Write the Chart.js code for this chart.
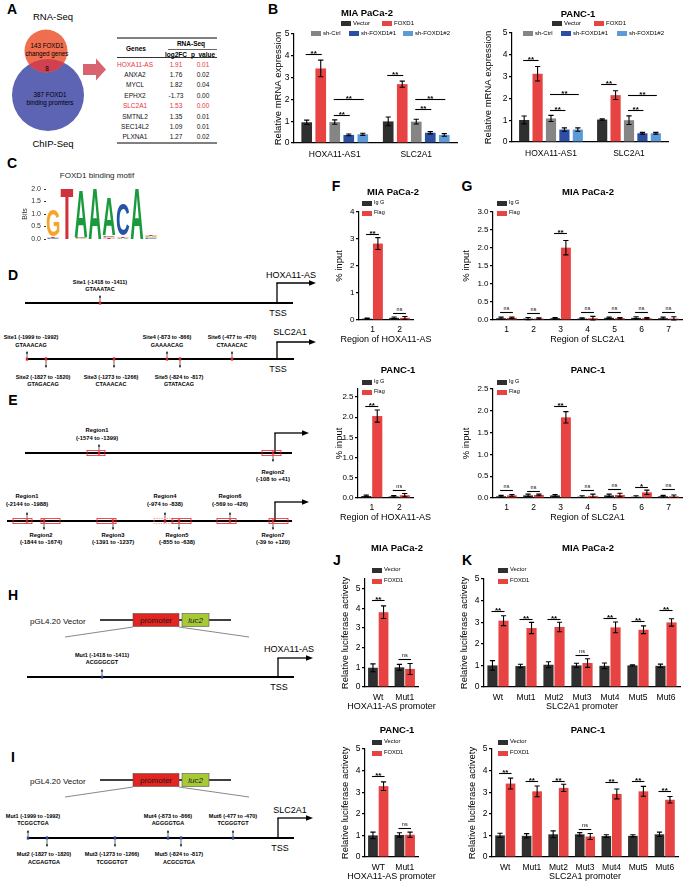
<!DOCTYPE html>
<html>
<head>
<meta charset="utf-8">
<title>FOXD1 targets HOXA11-AS and SLC2A1</title>
<script src="https://cdn.jsdelivr.net/npm/chart.js@4.4.1/dist/chart.umd.min.js"></script>
<style>
  html, body { margin: 0; padding: 0; background: #fff; }
  body { position: relative; width: 685px; height: 882px; overflow: hidden; font-family: 'Liberation Sans', Arial, sans-serif; }
  canvas { position: absolute; }
  .t { position: absolute; white-space: nowrap; line-height: 1; color: #000; }
  svg { position: absolute; left: 0; top: 0; font-family: 'Liberation Sans', Arial, sans-serif; }
</style>
</head>
<body>
<svg id="diag" width="685" height="882"></svg>
<script>
// ---------- data ----------
const tableGenes = ['HOXA11-AS', 'ANXA2', 'MYCL', 'EPHX2', 'SLC2A1', 'SMTNL2', 'SEC14L2', 'PLXNA1'];
const tableLog2FC = ['1.91', '1.76', '1.82', '-1.73', '1.53', '1.35', '1.09', '1.27'];
const tablePval = ['0.01', '0.02', '0.04', '0.00', '0.00', '0.01', '0.01', '0.02'];
const tableHighlight = ['HOXA11-AS', 'SLC2A1'];

// sequence logo (bits per letter per position)
const motifPositions = ['1', '2', '3', '4', '5', '6', '7', '8'];
const motifA = [0, 0, 1.88, 2.0, 1.5, 0.06, 2.0, 0.06];
const motifC = [0.04, 0, 0.04, 0, 0.06, 1.25, 0, 0.04];
const motifG = [1.07, 0, 0.03, 0, 0.05, 0, 0, 0.04];
const motifT = [0.06, 2.0, 0, 0, 0.04, 0.07, 0, 0.06];

// B: qPCR
const qpcrGenes = ['HOXA11-AS1', 'SLC2A1'];
const qpcrGroups = ['Vector', 'FOXD1', 'sh-Ctrl', 'sh-FOXD1#1', 'sh-FOXD1#2'];
const miaQpcr = [[0.95, 0.99], [3.42, 2.70], [0.96, 0.98], [0.37, 0.47], [0.40, 0.37]];
const miaQpcrErr = [[0.10, 0.20], [0.38, 0.14], [0.10, 0.11], [0.04, 0.05], [0.05, 0.06]];
const miaQpcrSig = [[0, 0, 1, 4.1, '**'], [0, 2, 3, 1.3, '**'], [0, 2, 4, 2.02, '**'],
                    [1, 0, 1, 3.11, '**'], [1, 2, 3, 1.58, '**'], [1, 2, 4, 2.0, '**']];
const pancQpcr = [[1.01, 1.03], [3.13, 2.15], [1.08, 1.0], [0.57, 0.40], [0.57, 0.40]];
const pancQpcrErr = [[0.18, 0.03], [0.33, 0.2], [0.14, 0.2], [0.08, 0.04], [0.08, 0.04]];
const pancQpcrSig = [[0, 0, 1, 3.78, '**'], [0, 2, 3, 1.48, '**'], [0, 2, 4, 2.2, '**'],
                     [1, 0, 1, 2.68, '**'], [1, 2, 3, 1.45, '**'], [1, 2, 4, 2.14, '**']];

// F/G: ChIP-qPCR
const chipHoxRegions = ['1', '2'];
const chipSlcRegions = ['1', '2', '3', '4', '5', '6', '7'];
const miaHoxIgg = [0.05, 0.08], miaHoxIggErr = [0.02, 0.03];
const miaHoxFlag = [2.83, 0.08], miaHoxFlagErr = [0.22, 0.05];
const miaHoxSig = [[0, 0, 1, 3.18, '**'], [1, 0, 1, 0.25, 'ns']];
const pancHoxIgg = [0.05, 0.04], pancHoxIggErr = [0.02, 0.02];
const pancHoxFlag = [2.03, 0.07], pancHoxFlagErr = [0.15, 0.04];
const pancHoxSig = [[0, 0, 1, 2.28, '**'], [1, 0, 1, 0.19, 'ns']];
const miaSlcIgg = [0.05, 0.04, 0.05, 0.04, 0.06, 0.06, 0.05];
const miaSlcIggErr = [0.03, 0.03, 0.02, 0.02, 0.02, 0.03, 0.03];
const miaSlcFlag = [0.06, 0.04, 2.01, 0.05, 0.05, 0.05, 0.04];
const miaSlcFlagErr = [0.02, 0.02, 0.2, 0.05, 0.02, 0.02, 0.05];
const miaSlcSig = [[0, 0, 1, 0.21, 'ns'], [1, 0, 1, 0.2, 'ns'], [2, 0, 1, 2.42, '**'], [3, 0, 1, 0.21, 'ns'],
                   [4, 0, 1, 0.22, 'ns'], [5, 0, 1, 0.22, 'ns'], [6, 0, 1, 0.21, 'ns']];
const pancSlcIgg = [0.04, 0.06, 0.06, 0.03, 0.06, 0.03, 0.04];
const pancSlcIggErr = [0.02, 0.03, 0.02, 0.02, 0.03, 0.02, 0.02];
const pancSlcFlag = [0.06, 0.07, 1.85, 0.05, 0.07, 0.13, 0.04];
const pancSlcFlagErr = [0.02, 0.02, 0.13, 0.04, 0.04, 0.05, 0.03];
const pancSlcSig = [[0, 0, 1, 0.19, 'ns'], [1, 0, 1, 0.17, 'ns'], [2, 0, 1, 2.1, '**'], [3, 0, 1, 0.19, 'ns'],
                    [4, 0, 1, 0.21, 'ns'], [5, 0, 1, 0.25, '*'], [6, 0, 1, 0.2, 'ns']];

// J/K: luciferase
const lucHoxMiaLabels = ['Wt', 'Mut1'];
const lucHoxPancLabels = ['WT', 'Mut1'];
const lucSlcLabels = ['Wt', 'Mut1', 'Mut2', 'Mut3', 'Mut4', 'Mut5', 'Mut6'];
const miaHoxVec = [0.98, 1.0], miaHoxVecErr = [0.2, 0.15];
const miaHoxFox = [3.81, 0.92], miaHoxFoxErr = [0.32, 0.28];
const miaHoxLucSig = [[0, 0, 1, 4.42, '**'], [1, 0, 1, 1.45, 'ns']];
const pancHoxVec = [1.0, 1.02], pancHoxVecErr = [0.15, 0.1];
const pancHoxFox = [3.28, 1.03], pancHoxFoxErr = [0.2, 0.12];
const pancHoxLucSig = [[0, 0, 1, 3.73, '**'], [1, 0, 1, 1.34, 'ns']];
const miaSlcVec = [1.0, 0.97, 1.03, 1.0, 0.98, 1.0, 0.98];
const miaSlcVecErr = [0.22, 0.08, 0.14, 0.1, 0.13, 0.03, 0.08];
const miaSlcFox = [3.07, 2.73, 2.78, 1.11, 2.76, 2.65, 2.99];
const miaSlcFoxErr = [0.23, 0.26, 0.22, 0.2, 0.25, 0.18, 0.17];
const miaSlcLucSig = [[0, 0, 1, 3.5, '**'], [1, 0, 1, 3.15, '**'], [2, 0, 1, 3.15, '**'], [3, 0, 1, 1.5, 'ns'],
                      [4, 0, 1, 3.2, '**'], [5, 0, 1, 3.05, '**'], [6, 0, 1, 3.55, '**']];
const pancSlcVec = [1.0, 0.98, 1.05, 1.05, 0.97, 0.98, 1.05];
const pancSlcVecErr = [0.1, 0.1, 0.16, 0.08, 0.06, 0.05, 0.1];
const pancSlcFox = [3.4, 3.04, 3.2, 0.95, 2.92, 3.04, 2.65];
const pancSlcFoxErr = [0.25, 0.25, 0.17, 0.14, 0.23, 0.23, 0.15];
const pancSlcLucSig = [[0, 0, 1, 3.89, '**'], [1, 0, 1, 3.53, '**'], [2, 0, 1, 3.53, '**'], [3, 0, 1, 1.31, 'ns'],
                       [4, 0, 1, 3.47, '**'], [5, 0, 1, 3.5, '**'], [6, 0, 1, 3.04, '**']];

// ---------- colours ----------
const DARK = '#2f2f2f', RED = '#e84343';
const qpcrColors = [DARK, RED, '#858585', '#2c4fa3', '#5d9bd8'];
const LOGO_COL = { A: '#1a9a3c', C: '#2553a6', G: '#f4a52a', T: '#d1313c' };

Chart.defaults.font.family = "'Liberation Sans', Arial, sans-serif";
Chart.defaults.color = '#000';

// ---------- helpers ----------
function label(x, y, text, size, opt = {}) {
  const d = document.createElement('div');
  d.className = 't';
  d.textContent = text;
  d.style.left = x + 'px';
  d.style.top = y + 'px';
  d.style.fontSize = size + 'px';
  if (opt.bold) d.style.fontWeight = 'bold';
  if (opt.color) d.style.color = opt.color;
  const ax = opt.align === 'left' ? '0' : opt.align === 'right' ? '-100%' : '-50%';
  d.style.transform = `translate(${ax},-50%)`;
  document.body.appendChild(d);
}

function legendItem(x, y, color, text, size) {
  const r = document.createElement('div');
  r.style.cssText = `position:absolute;left:${x}px;top:${y - 2.5}px;width:10px;height:5px;background:${color}`;
  document.body.appendChild(r);
  label(x + 12, y, text, size, { align: 'left' });
}

// error bars + significance brackets
const errPlugin = {
  id: 'errsig',
  afterDatasetsDraw(chart, args, opts) {
    const ctx = chart.ctx, y = chart.scales.y;
    ctx.save();
    ctx.strokeStyle = '#000';
    ctx.fillStyle = '#000';
    ctx.lineWidth = 1.1;
    chart.data.datasets.forEach((ds, di) => {
      chart.getDatasetMeta(di).data.forEach((bar, i) => {
        const v = ds.data[i], e = ds.err[i];
        const yt = y.getPixelForValue(v + e), yb = y.getPixelForValue(Math.max(v - e, 0));
        const cap = 2.6;
        ctx.beginPath();
        ctx.moveTo(bar.x, yt); ctx.lineTo(bar.x, yb);
        ctx.moveTo(bar.x - cap, yt); ctx.lineTo(bar.x + cap, yt);
        ctx.moveTo(bar.x - cap, yb); ctx.lineTo(bar.x + cap, yb);
        ctx.stroke();
      });
    });
    (opts.sig || []).forEach(([c, a, b, v, txt]) => {
      const xa = chart.getDatasetMeta(a).data[c].x - 1;
      const xb = chart.getDatasetMeta(b).data[c].x + 1;
      const yy = Math.round(y.getPixelForValue(v)) + 0.5;
      ctx.beginPath();
      ctx.moveTo(xa, yy); ctx.lineTo(xb, yy);
      ctx.stroke();
      ctx.textAlign = 'center';
      ctx.textBaseline = 'alphabetic';
      if (txt === 'ns') {
        ctx.font = "5.5px 'Liberation Sans', Arial, sans-serif";
        ctx.fillText(txt, (xa + xb) / 2, yy - 2.5);
      } else {
        ctx.font = "bold 8px 'Liberation Sans', Arial, sans-serif";
        ctx.fillText(txt, (xa + xb) / 2, yy + 1);
      }
    });
    ctx.restore();
  }
};

function barChart(c) {
  const yts = c.yTitleSize || 9.5;
  const left = Math.round(c.yTitleX - 0.6 * yts);
  const top = c.box.t - 16;
  const bottom = c.box.b + 16;
  const right = c.box.r + 4;
  const cv = document.createElement('canvas');
  cv.width = right - left;
  cv.height = bottom - top;
  cv.style.left = left + 'px';
  cv.style.top = top + 'px';
  document.body.appendChild(cv);
  const xls = c.xLabelSize || 8.5;
  new Chart(cv, {
    type: 'bar',
    data: {
      labels: c.labels,
      datasets: c.series.map(s => ({
        label: s.name, data: s.data, err: s.err, backgroundColor: s.color, borderWidth: 0,
        categoryPercentage: c.catPct, barPercentage: c.barPct
      }))
    },
    options: {
      responsive: false, animation: false, devicePixelRatio: 1,
      layout: { padding: { top: 16, right: 4, left: 0, bottom: 0 } },
      plugins: { legend: { display: false }, tooltip: { enabled: false }, errsig: { sig: c.sig } },
      scales: {
        x: {
          grid: { drawOnChartArea: false, drawTicks: false },
          border: { color: '#000', width: 1.2 },
          ticks: { font: { size: xls }, padding: Math.max(0, c.xLabelY - c.box.b - xls * 0.55), maxRotation: 0, autoSkip: false },
          afterFit: s => { s.height = bottom - c.box.b; }
        },
        y: {
          min: 0, max: c.yMax,
          ticks: { stepSize: c.yStep, includeBounds: false, font: { size: c.yTickSize || 8.5 }, padding: 1.5,
                   callback: v => Number(v).toFixed(c.dec) },
          grid: { drawOnChartArea: false, drawTicks: true, tickLength: 3, color: '#000', lineWidth: 1.2 },
          border: { color: '#000', width: 1.2 },
          title: { display: true, text: c.yTitle, padding: 0, font: { size: yts } },
          afterFit: s => { s.width = c.box.l - left; }
        }
      }
    },
    plugins: [errPlugin]
  });
  if (c.xTitle) label((c.box.l + c.box.r) / 2, c.xTitleY, c.xTitle, 9);
  label(c.titleX, c.titleY, c.title, 9.5, { bold: true });
  c.legend.forEach(([x, y, i]) => legendItem(x, y, c.series[i].color, c.series[i].name, c.legendSize || 6));
}

// sequence logo drawn through the chart's scales
const logoPlugin = {
  id: 'logo',
  afterDatasetsDraw(chart) {
    const ctx = chart.ctx, xs = chart.scales.x, ys = chart.scales.y;
    const w = xs.getPixelForValue(1) - xs.getPixelForValue(0);
    const letters = chart.data.datasets.map(d => d.label);
    motifPositions.forEach((p, i) => {
      const stack = chart.data.datasets.map((d, k) => [letters[k], d.data[i]])
        .filter(s => s[1] > 0).sort((a, b) => a[1] - b[1]);
      let base = 0;
      const cx = xs.getPixelForValue(i);
      stack.forEach(([L, h]) => {
        const yb = ys.getPixelForValue(base), yt = ys.getPixelForValue(base + h);
        base += h;
        ctx.save();
        ctx.font = "bold 100px 'Liberation Sans', Arial, sans-serif";
        ctx.textBaseline = 'alphabetic';
        ctx.textAlign = 'left';
        const m = ctx.measureText(L);
        const gl = -m.actualBoundingBoxLeft, gr = m.actualBoundingBoxRight;
        const gt = -m.actualBoundingBoxAscent, gb = m.actualBoundingBoxDescent;
        const rw = w * 0.9, rh = Math.max(yb - yt, 0.3);
        ctx.translate(cx - rw / 2, yt);
        ctx.scale(rw / (gr - gl), rh / (gb - gt));
        ctx.fillStyle = LOGO_COL[L];
        ctx.fillText(L, -gl, -gt);
        ctx.restore();
      });
    });
  }
};

function motifChart() {
  const box = { l: 46, r: 158, t: 189, b: 239 };
  const left = 21, top = box.t - 8, bottom = 252;
  const cv = document.createElement('canvas');
  cv.width = box.r + 4 - left;
  cv.height = bottom - top;
  cv.style.left = left + 'px';
  cv.style.top = top + 'px';
  document.body.appendChild(cv);
  new Chart(cv, {
    type: 'bar',
    data: {
      labels: motifPositions,
      datasets: [
        { label: 'A', data: motifA }, { label: 'C', data: motifC },
        { label: 'G', data: motifG }, { label: 'T', data: motifT }
      ].map(d => Object.assign(d, { backgroundColor: 'rgba(0,0,0,0)', borderWidth: 0 }))
    },
    options: {
      responsive: false, animation: false, devicePixelRatio: 1,
      layout: { padding: { top: 8, right: 4, left: 0, bottom: 0 } },
      plugins: { legend: { display: false }, tooltip: { enabled: false } },
      scales: {
        x: {
          stacked: true,
          grid: { display: false }, border: { display: false },
          ticks: { font: { size: 7 }, color: '#333', padding: 3.5 },
          afterFit: s => { s.height = bottom - box.b; }
        },
        y: {
          stacked: true, min: 0, max: 2,
          ticks: { stepSize: 0.5, font: { size: 7 }, color: '#333', padding: 3, callback: v => Number(v).toFixed(1) },
          grid: { drawOnChartArea: false, drawTicks: true, tickLength: 2, color: '#333' },
          border: { display: false },
          title: { display: true, text: 'Bits', padding: 0, font: { size: 7 }, color: '#333' },
          afterFit: s => { s.width = box.l - left; }
        }
      }
    },
    plugins: [logoPlugin]
  });
  label(97, 176, 'FOXD1 binding motif', 8, { color: '#222' });
}

// ---------- diagrams (SVG) ----------
let svg = '';
const L = (x1, y1, x2, y2, w = 1, c = '#000') =>
  svg += `<line x1="${x1}" y1="${y1}" x2="${x2}" y2="${y2}" stroke="${c}" stroke-width="${w}"/>`;
const T = (x, y, s, size, extra = '') =>
  svg += `<text x="${x}" y="${y}" font-size="${size}" text-anchor="middle" dominant-baseline="central" ${extra}>${s}</text>`;

function tss(x, y, h, x2) {
  L(x, y, x, y - h, 1.3);
  L(x - 0.65, y - h, x2 - 5, y - h, 1.3);
  svg += `<polygon points="${x2 - 7},${y - h - 2.8} ${x2},${y - h} ${x2 - 7},${y - h + 2.8}" fill="#000"/>`;
}
function arrowV(x, y1, y2) {
  const d = y2 < y1 ? -1 : 1;
  L(x, y1, x, y2 - d * 2, 0.6);
  svg += `<polygon points="${x - 1.2},${y2 - d * 2.6} ${x + 1.2},${y2 - d * 2.6} ${x},${y2}" fill="#000"/>`;
}
function mark(x, y, color) {
  svg += `<rect x="${x - 1.2}" y="${y - 1.6}" width="2.4" height="3.2" fill="${color}"/>`;
}
function site(lineY, s, color, upOff, downOff) {
  mark(s.x, lineY, color);
  if (s.up) {
    arrowV(s.x, lineY - 2, lineY - 8);
    T(s.lx, lineY + upOff[0], s.name, 5.5, 'font-weight="bold"');
    T(s.lx, lineY + upOff[1], s.seq, 5.5, 'font-weight="bold"');
  } else {
    arrowV(s.x, lineY + 2, lineY + 9);
    T(s.lx, lineY + downOff[0], s.name, 5.5, 'font-weight="bold"');
    T(s.lx, lineY + downOff[1], s.seq, 5.5, 'font-weight="bold"');
  }
}
function region(lineY, r, upOff, downOff) {
  const dash = r.dashed ? 'stroke-dasharray="1.5,1"' : '';
  const col = r.dashed ? '#f08a8a' : '#e8202a';
  svg += `<rect x="${r.x0}" y="${lineY - 2.6}" width="${r.x1 - r.x0}" height="5.2" fill="none" stroke="${col}" stroke-width="0.8" ${dash}/>`;
  mark(r.ax, lineY, '#c01818');
  if (r.up) {
    arrowV(r.ax, lineY - 3, lineY - 9);
    T(r.lx, lineY + upOff[0], r.name, 5.8, 'font-weight="bold"');
    T(r.lx, lineY + upOff[1], r.range, 5.8, 'font-weight="bold"');
  } else {
    arrowV(r.ax, lineY + 3, lineY + 9);
    T(r.lx, lineY + downOff[0], r.name, 5.8, 'font-weight="bold"');
    T(r.lx, lineY + downOff[1], r.range, 5.8, 'font-weight="bold"');
  }
}
function vector(y, textY) {
  svg += `<text x="30" y="${textY}" font-size="8" dominant-baseline="central" fill="#111">pGL4.20 Vector</text>`;
  L(100, y, 231, y, 1.4);
  svg += `<rect x="133" y="${y - 6.5}" width="46" height="13" fill="#e3231f" stroke="#555" stroke-width="0.6"/>`;
  T(156, y, 'promoter', 8, 'fill="#1a1a1a"');
  svg += `<rect x="182" y="${y - 6.5}" width="27" height="13" fill="#a7c935" stroke="#555" stroke-width="0.6"/>`;
  T(195.5, y, 'luc2', 8, 'font-style="italic" fill="#1a1a1a"');
  L(133, y + 7, 65, y + 17, 0.7, '#555');
  L(179, y + 7, 249, y + 17, 0.7, '#555');
}

// panel A: Venn + arrow + table
svg += `<defs><clipPath id="blueClip"><circle cx="48" cy="95" r="36"/></clipPath></defs>`;
svg += `<circle cx="48" cy="95" r="36" fill="#5d64b3"/>`;
svg += `<circle cx="46" cy="51" r="21.5" fill="#ef6e4f"/>`;
svg += `<circle cx="46" cy="51" r="21.5" fill="#cf4151" clip-path="url(#blueClip)"/>`;
T(53, 16, 'RNA-Seq', 9.5);
T(47, 45, '143 FOXD1', 6.3);
T(47, 53, 'changed genes', 6.3);
T(47, 68, '8', 6.3);
T(50, 94, '387 FOXD1', 6.3);
T(50, 102, 'binding promters', 6.3);
T(53, 143, 'ChIP-Seq', 9.5);
svg += `<polygon points="83,64 96,64 96,58.5 106,69.5 96,80.5 96,75 83,75" fill="#d8646f"/>`;

L(117, 38, 217, 38, 1);
L(168, 49.5, 217, 49.5, 0.6);
L(117, 57.5, 217, 57.5, 0.8);
L(117, 143, 217, 143, 1);
T(136, 48, 'Genes', 6.5, 'font-weight="bold"');
T(191, 43, 'RNA-Seq', 6.5, 'font-weight="bold"');
T(176, 54, 'log2FC', 6.5, 'font-weight="bold"');
T(203, 54, 'p_value', 6.5, 'font-weight="bold"');
tableGenes.forEach((g, i) => {
  const y = 64 + i * 10.4;
  const fill = tableHighlight.includes(g) ? 'fill="#e8343c"' : 'fill="#111"';
  T(135, y, g, 6.5, fill);
  T(176, y, tableLog2FC[i], 6.5, fill);
  T(203, y, tablePval[i], 6.5, fill);
});

// panel D
L(25, 303, 293, 303, 2);
tss(277, 303, 20, 316);
T(291, 275, 'HOXA11-AS', 9);
T(278, 313, 'TSS', 9);
site(303, { x: 100, lx: 100, up: true, name: 'Site1 (-1418 to -1411)', seq: 'GTAAATAC' }, '#e02020', [-21, -14], [18, 25]);
L(26, 359, 294, 359, 2);
tss(277, 359, 17, 316);
T(290, 332, 'SLC2A1', 9);
T(278, 369, 'TSS', 9);
[
  { x: 27, lx: 31, up: true, name: 'Site1 (-1999 to -1992)', seq: 'GTAAACAG' },
  { x: 46, lx: 43, up: false, name: 'Site2 (-1827 to -1820)', seq: 'GTAGACAG' },
  { x: 114, lx: 111, up: false, name: 'Site3 (-1273 to -1266)', seq: 'CTAAACAC' },
  { x: 167, lx: 167, up: true, name: 'Site4 (-873 to -866)', seq: 'GAAAACAG' },
  { x: 180, lx: 179, up: false, name: 'Site5 (-824 to -817)', seq: 'GTATACAG' },
  { x: 232, lx: 232, up: true, name: 'Site6 (-477 to -470)', seq: 'CTAAACAC' }
].forEach(s => site(359, s, '#e02020', [-22, -14], [18, 25]));

// panel E
L(25, 453, 292, 453, 2);
tss(275, 453, 20, 309);
region(453, { x0: 87, x1: 105, ax: 99, lx: 97, up: true, name: 'Region1', range: '(-1574 to -1399)' }, [-23, -15], [18, 26]);
region(453, { x0: 262, x1: 281, ax: 273, lx: 273, up: false, name: 'Region2', range: '(-108 to +41)' }, [-23, -15], [19, 26]);
L(7, 521, 292, 521, 2);
tss(275, 521, 19, 309);
[
  { x0: 13, x1: 32, ax: 27, lx: 27, up: true, name: 'Region1', range: '(-2144 to -1988)' },
  { x0: 41, x1: 60, ax: 44, lx: 41, up: false, name: 'Region2', range: '(-1844 to -1674)' },
  { x0: 97, x1: 116, ax: 113, lx: 113, up: false, name: 'Region3', range: '(-1391 to -1237)' },
  { x0: 154, x1: 173, ax: 165, lx: 165, up: true, dashed: true, name: 'Region4', range: '(-974 to -838)' },
  { x0: 172, x1: 191, ax: 179, lx: 177, up: false, name: 'Region5', range: '(-855 to -638)' },
  { x0: 217, x1: 236, ax: 230, lx: 230, up: true, name: 'Region6', range: '(-569 to -426)' },
  { x0: 269, x1: 288, ax: 273, lx: 273, up: false, name: 'Region7', range: '(-39 to +120)' }
].forEach(r => region(521, r, [-25, -17], [14, 21]));

// panel H
vector(620, 621);
L(27, 677, 294, 677, 2);
tss(278, 677, 19, 313);
T(289, 649, 'HOXA11-AS', 9);
T(279, 687, 'TSS', 9);
site(677, { x: 102, lx: 102, up: true, name: 'Mut1 (-1418 to -1411)', seq: 'ACGGGCGT' }, '#2a4a9c', [-22, -15], [16, 24]);

// panel I
vector(780, 781);
L(27, 838, 294, 838, 2);
tss(278, 838, 20, 313);
T(290, 810, 'SLC2A1', 9);
T(280, 848, 'TSS', 9);
[
  { x: 28, lx: 33, up: true, name: 'Mut1 (-1999 to -1992)', seq: 'TCGGCTGA' },
  { x: 47, lx: 44, up: false, name: 'Mut2 (-1827 to -1820)', seq: 'ACGAGTGA' },
  { x: 115, lx: 112, up: false, name: 'Mut3 (-1273 to -1266)', seq: 'TCGGGTGT' },
  { x: 168, lx: 168, up: true, name: 'Mut4 (-873 to -866)', seq: 'AGGGGTGA' },
  { x: 181, lx: 179, up: false, name: 'Mut5 (-824 to -817)', seq: 'ACGCGTGA' },
  { x: 233, lx: 233, up: true, name: 'Mut6 (-477 to -470)', seq: 'TCGGGTGT' }
].forEach(s => site(838, s, '#2a4a9c', [-22, -15], [16, 24]));

document.getElementById('diag').innerHTML = svg;

// panel letters
[['A', 12, 9], ['B', 273, 9], ['C', 12, 163], ['D', 13, 275], ['E', 13, 400], ['F', 336, 186],
 ['G', 467, 186], ['H', 13, 595], ['I', 13, 757], ['J', 337, 560], ['K', 467, 560]]
  .forEach(([s, x, y]) => label(x, y, s, 14, { bold: true }));

// ---------- charts ----------
motifChart();

const qSeries = (vals, errs) => qpcrGroups.map((g, i) => ({ name: g, data: vals[i], err: errs[i], color: qpcrColors[i] }));
barChart({
  box: { l: 294, r: 457, t: 34, b: 143 }, yMax: 5, yStep: 1, dec: 0,
  labels: qpcrGenes, series: qSeries(miaQpcr, miaQpcrErr), sig: miaQpcrSig,
  yTitle: 'Relative mRNA expression', yTitleX: 279, xLabelY: 154,
  catPct: 0.86, barPct: 0.76, title: 'MIA PaCa-2', titleX: 367, titleY: 13,
  legend: [[341, 23, 0], [382, 23, 1], [311, 33, 2], [349, 33, 3], [403, 33, 4]]
});
barChart({
  box: { l: 512, r: 668, t: 33, b: 142 }, yMax: 5, yStep: 1, dec: 0,
  labels: qpcrGenes, series: qSeries(pancQpcr, pancQpcrErr), sig: pancQpcrSig,
  yTitle: 'Relative mRNA expression', yTitleX: 489, xLabelY: 153,
  catPct: 0.86, barPct: 0.76, title: 'PANC-1', titleX: 578, titleY: 14,
  legend: [[552, 23, 0], [594, 23, 1], [523, 33, 2], [561, 33, 3], [617, 33, 4]]
});

const two = (n1, d1, e1, n2, d2, e2) => [
  { name: n1, data: d1, err: e1, color: DARK },
  { name: n2, data: d2, err: e2, color: RED }
];
const chipCommon = { yTitle: '% input', catPct: 0.8, barPct: 0.92, yTickSize: 8, legendSize: 5.5 };

barChart(Object.assign({}, chipCommon, {
  box: { l: 359, r: 413, t: 212, b: 320 }, yMax: 4, yStep: 1, dec: 0,
  labels: chipHoxRegions, series: two('Ig G', miaHoxIgg, miaHoxIggErr, 'Flag', miaHoxFlag, miaHoxFlagErr),
  sig: miaHoxSig, yTitleX: 340, xLabelY: 329, xTitle: 'Region of HOXA11-AS', xTitleY: 338.5,
  title: 'MIA PaCa-2', titleX: 393, titleY: 192, legend: [[362, 203, 0], [362, 213, 1]]
}));
barChart(Object.assign({}, chipCommon, {
  box: { l: 358, r: 413, t: 389, b: 498 }, yMax: 2.7, yStep: 0.5, dec: 1,
  labels: chipHoxRegions, series: two('Ig G', pancHoxIgg, pancHoxIggErr, 'Flag', pancHoxFlag, pancHoxFlagErr),
  sig: pancHoxSig, yTitleX: 340, xLabelY: 507, xTitle: 'Region of HOXA11-AS', xTitleY: 516.5,
  title: 'PANC-1', titleX: 398, titleY: 370, legend: [[362, 382, 0], [362, 392, 1]]
}));
barChart(Object.assign({}, chipCommon, {
  box: { l: 493, r: 682, t: 212, b: 320 }, yMax: 3, yStep: 0.5, dec: 1,
  labels: chipSlcRegions, series: two('Ig G', miaSlcIgg, miaSlcIggErr, 'Flag', miaSlcFlag, miaSlcFlagErr),
  sig: miaSlcSig, yTitleX: 467, xLabelY: 329, xTitle: 'Region of SLC2A1', xTitleY: 338.5,
  title: 'MIA PaCa-2', titleX: 588, titleY: 192, legend: [[497, 203, 0], [497, 213, 1]]
}));
barChart(Object.assign({}, chipCommon, {
  box: { l: 493, r: 682, t: 389, b: 498 }, yMax: 2.5, yStep: 0.5, dec: 1,
  labels: chipSlcRegions, series: two('Ig G', pancSlcIgg, pancSlcIggErr, 'Flag', pancSlcFlag, pancSlcFlagErr),
  sig: pancSlcSig, yTitleX: 467, xLabelY: 507, xTitle: 'Region of SLC2A1', xTitleY: 516.5,
  title: 'PANC-1', titleX: 588, titleY: 370, legend: [[497, 382, 0], [497, 392, 1]]
}));

const lucCommon = { yTitle: 'Relative luciferase activety', yStep: 1, dec: 0, barPct: 0.92, legendSize: 5.8 };
barChart(Object.assign({}, lucCommon, {
  box: { l: 365, r: 418, t: 579, b: 687 }, yMax: 5.5, catPct: 0.8,
  labels: lucHoxMiaLabels, series: two('Vector', miaHoxVec, miaHoxVecErr, 'FOXD1', miaHoxFox, miaHoxFoxErr),
  sig: miaHoxLucSig, yTitleX: 346, xLabelY: 697, xTitle: 'HOXA11-AS promoter', xTitleY: 706,
  title: 'MIA PaCa-2', titleX: 397, titleY: 548, legend: [[372, 570, 0], [372, 581, 1]]
}));
barChart(Object.assign({}, lucCommon, {
  box: { l: 484, r: 680, t: 579, b: 687 }, yMax: 5, catPct: 0.79,
  labels: lucSlcLabels, series: two('Vector', miaSlcVec, miaSlcVecErr, 'FOXD1', miaSlcFox, miaSlcFoxErr),
  sig: miaSlcLucSig, yTitleX: 465, xLabelY: 697, xTitle: 'SLC2A1 promoter', xTitleY: 706,
  title: 'MIA PaCa-2', titleX: 588, titleY: 548, legend: [[498, 570, 0], [498, 581, 1]]
}));
barChart(Object.assign({}, lucCommon, {
  box: { l: 365, r: 418, t: 749, b: 857 }, yMax: 5, catPct: 0.8,
  labels: lucHoxPancLabels, series: two('Vector', pancHoxVec, pancHoxVecErr, 'FOXD1', pancHoxFox, pancHoxFoxErr),
  sig: pancHoxLucSig, yTitleX: 346, xLabelY: 867, xTitle: 'HOXA11-AS promoter', xTitleY: 876,
  title: 'PANC-1', titleX: 397, titleY: 730, legend: [[372, 742, 0], [372, 753, 1]]
}));
barChart(Object.assign({}, lucCommon, {
  box: { l: 492, r: 678, t: 749, b: 857 }, yMax: 5, catPct: 0.79,
  labels: lucSlcLabels, series: two('Vector', pancSlcVec, pancSlcVecErr, 'FOXD1', pancSlcFox, pancSlcFoxErr),
  sig: pancSlcLucSig, yTitleX: 473, xLabelY: 867, xTitle: 'SLC2A1 promoter', xTitleY: 876,
  title: 'PANC-1', titleX: 588, titleY: 730, legend: [[498, 742, 0], [498, 753, 1]]
}));
</script>
</body>
</html>
